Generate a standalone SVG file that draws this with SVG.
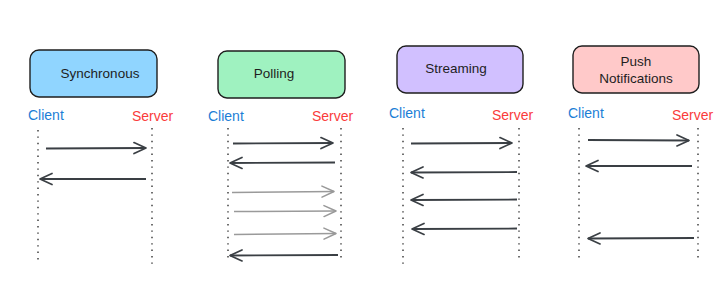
<svg xmlns="http://www.w3.org/2000/svg" width="724" height="283" viewBox="0 0 724 283">
<defs>
<marker id="ah" viewBox="0 0 14 14" refX="13" refY="7" markerWidth="14" markerHeight="14" markerUnits="userSpaceOnUse" orient="auto">
<path d="M1,1.5 L13,7 L1,12.5" fill="none" stroke="#3a3f44" stroke-width="1.7" stroke-linecap="round" stroke-linejoin="round"/>
</marker>
<marker id="ahg" viewBox="0 0 14 14" refX="13" refY="7" markerWidth="14" markerHeight="14" markerUnits="userSpaceOnUse" orient="auto">
<path d="M1,1.5 L13,7 L1,12.5" fill="none" stroke="#999" stroke-width="1.5" stroke-linecap="round" stroke-linejoin="round"/>
</marker>
</defs>
<style>
.box{stroke:#1e1e1e;stroke-width:1.4}
.t{font-family:"Liberation Sans",Arial,sans-serif;font-size:13.5px;fill:#1e1e1e;text-anchor:middle}
.c{font-family:"Liberation Sans",Arial,sans-serif;font-size:14px;fill:#1c7ed6}
.s{font-family:"Liberation Sans",Arial,sans-serif;font-size:14px;fill:#fa3b3b}
.life{stroke:#333;stroke-width:1.4;stroke-dasharray:1.4 5;fill:none}
.a{stroke:#3a3f44;stroke-width:1.8;fill:none;marker-end:url(#ah)}
.g{stroke:#9a9a9a;stroke-width:1.5;fill:none;marker-end:url(#ahg)}
</style>
<rect width="724" height="283" fill="#fff"/>
<g id="synchronous">
<rect class="box" x="30" y="50" width="127" height="47" rx="9" fill="#90d5ff"/>
<text class="t" x="100" y="78">Synchronous</text>
<text class="c" x="28" y="120">Client</text>
<text class="s" x="132" y="121">Server</text>
</g>
<g id="polling">
<rect class="box" x="218" y="51" width="127" height="47" rx="9" fill="#9ff2c0"/>
<text class="t" x="274" y="78">Polling</text>
<text class="c" x="208" y="121">Client</text>
<text class="s" x="312" y="121">Server</text>
</g>
<g id="streaming">
<rect class="box" x="397" y="46" width="126" height="47" rx="9" fill="#d1c0ff"/>
<text class="t" x="456" y="73">Streaming</text>
<text class="c" x="389" y="118">Client</text>
<text class="s" x="492" y="120">Server</text>
</g>
<g id="push">
<rect class="box" x="573" y="46" width="126" height="47" rx="9" fill="#ffc9c9"/>
<text class="t" x="636" y="66">Push</text>
<text class="t" x="636" y="83">Notifications</text>
<text class="c" x="568" y="118">Client</text>
<text class="s" x="672" y="120">Server</text>
</g>
<g id="connectors">
<path class="life" d="M38,130 V263"/>
<path class="life" d="M152,128 V267"/>
<path class="life" d="M228,128 V262"/>
<path class="life" d="M341,128 V262"/>
<path class="life" d="M403,128 V267"/>
<path class="life" d="M519,128 V260"/>
<path class="life" d="M579,128 V258"/>
<path class="life" d="M698,128 V258"/>
<path class="a" d="M46,148.5 L146,148"/>
<path class="a" d="M146,179 L40,179"/>
<path class="a" d="M233,143.5 L333,143"/>
<path class="a" d="M335,162.5 L230,163"/>
<path class="g" d="M232,192.5 L334,191.5"/>
<path class="g" d="M234,211.5 L336,211"/>
<path class="g" d="M234,234.5 L336,233.5"/>
<path class="a" d="M338,255 L230,255.5"/>
<path class="a" d="M411,143.5 L512,143"/>
<path class="a" d="M517,172 L411,172.5"/>
<path class="a" d="M517,199.5 L411,200"/>
<path class="a" d="M517,228.5 L412,229"/>
<path class="a" d="M588,140 L689,140.5"/>
<path class="a" d="M692,166 L586,166"/>
<path class="a" d="M694,238 L588,238.5"/>
</g>
</svg>
